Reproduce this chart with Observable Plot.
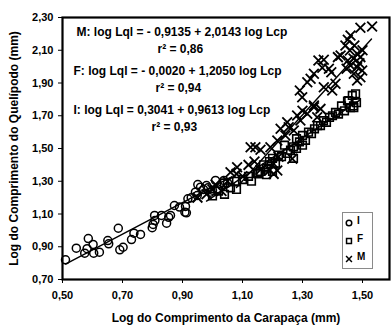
<!DOCTYPE html>
<html>
<head>
<meta charset="utf-8">
<script src="https://cdn.jsdelivr.net/npm/d3@7"></script>
<script src="https://cdn.jsdelivr.net/npm/@observablehq/plot@0.6"></script>
<style>
  body { margin: 0; background: white; }
  #wrap { position: relative; width: 391px; height: 326px; }
  #legend { position: absolute; left: 342px; top: 212px; }
</style>
</head>
<body>
<div id="wrap"></div>
<script>
// ---- data ----
const groups = ["M", "F", "I"];
const intercepts = [-0.9135, -0.0020, 0.3041];
const slopes = [2.0143, 1.2050, 0.9613];
const rSquared = [0.86, 0.94, 0.93];
const lineFrom = [1.08, 0.98, 0.51];
const lineTo = [1.53, 1.49, 1.06];

const xTicks = [0.5, 0.7, 0.9, 1.1, 1.3, 1.5];
const yTicks = [0.7, 0.9, 1.1, 1.3, 1.5, 1.7, 1.9, 2.1, 2.3];
const xLabel = "Log do Comprimento da Carapaça (mm)";
const yLabel = "Log do Comprimento do Quelípodo (mm)";

const iX = [0.51,0.546,0.574,0.582,0.586,0.602,0.604,0.623,0.651,0.654,0.686,0.691,0.702,0.73,0.738,0.76,0.799,0.802,0.808,0.807,0.83,0.847,0.854,0.86,0.873,0.89,0.908,0.91,0.913,0.918,0.929,0.943,0.949,0.951,0.96,0.97,0.98,0.985,0.993,1.0,1.01,1.016,1.038,1.05];
const iY = [0.82,0.891,0.861,0.888,0.95,0.914,0.861,0.867,0.938,0.918,1.013,0.881,0.897,0.944,0.983,0.975,1.016,1.036,1.06,1.091,1.091,1.044,1.08,1.091,1.152,1.142,1.111,1.146,1.107,1.193,1.199,1.233,1.213,1.28,1.264,1.25,1.274,1.26,1.233,1.245,1.305,1.254,1.305,1.29];

const fX = [1.00,1.02,1.04,1.04,1.06,1.08,1.08,1.10,1.12,1.13,1.15,1.154,1.16,1.17,1.18,1.18,1.19,1.20,1.20,1.21,1.22,1.23,1.24,1.25,1.26,1.27,1.27,1.28,1.28,1.29,1.30,1.30,1.31,1.32,1.33,1.34,1.35,1.36,1.37,1.38,1.39,1.40,1.41,1.42,1.43,1.44,1.45,1.454,1.46,1.466,1.47,1.471,1.477,1.48];
const fY = [1.21,1.24,1.22,1.29,1.26,1.25,1.30,1.31,1.33,1.30,1.35,1.345,1.36,1.40,1.38,1.34,1.42,1.44,1.36,1.41,1.46,1.45,1.52,1.47,1.49,1.51,1.44,1.50,1.56,1.54,1.58,1.52,1.55,1.60,1.59,1.62,1.64,1.64,1.67,1.66,1.69,1.70,1.72,1.71,1.76,1.73,1.79,1.793,1.75,1.824,1.76,1.749,1.834,1.78];

const mX = [0.95,0.98,1.00,1.01,1.03,1.05,1.06,1.08,1.082,1.10,1.12,1.127,1.14,1.143,1.16,1.16,1.19,1.193,1.204,1.204,1.216,1.216,1.22,1.227,1.243,1.249,1.254,1.266,1.271,1.282,1.291,1.293,1.299,1.30,1.316,1.316,1.327,1.338,1.338,1.338,1.349,1.353,1.36,1.366,1.371,1.371,1.388,1.396,1.399,1.41,1.418,1.427,1.443,1.447,1.451,1.451,1.458,1.46,1.46,1.47,1.471,1.473,1.482,1.482,1.482,1.49,1.493,1.493,1.493,1.499,1.50,1.532];
const mY = [1.20,1.22,1.25,1.28,1.24,1.30,1.355,1.345,1.386,1.33,1.40,1.508,1.42,1.508,1.492,1.37,1.366,1.508,1.407,1.345,1.366,1.549,1.45,1.62,1.579,1.661,1.63,1.437,1.61,1.702,1.854,1.671,1.813,1.73,1.905,1.712,1.926,1.956,1.763,1.752,1.691,2.037,1.742,1.993,2.042,1.874,1.987,1.966,1.854,1.895,2.058,2.068,2.129,1.987,2.164,2.037,2.098,2.19,2.007,2.05,1.956,2.129,2.078,1.997,1.915,2.02,2.237,2.058,1.935,1.976,2.10,2.245];

// ---- build ----
const fmt = d => d.toFixed(2).replace(".", ",");
const dec4 = v => v.toFixed(4).replace(".", ",");
const toPts = (xs, ys) => xs.map((x, i) => ({x, y: ys[i]}));
const iData = toPts(iX, iY), fData = toPts(fX, fY), mData = toPts(mX, mY);

const fitLines = groups.flatMap((g, k) => [lineFrom[k], lineTo[k]].map(x => ({g, x, y: intercepts[k] + slopes[k] * x})));
const eqText = groups.map((g, k) => {
  const a = intercepts[k];
  const aStr = a < 0 ? "- " + dec4(-a) : dec4(a);
  return `${g}: log Lql = ${aStr} + ${dec4(slopes[k])} log Lcp`;
});
const r2Text = rSquared.map(r => `r² = ${fmt(r)}`);

// offsets of the annotation lines from the frame's top-left corner
const eqDx = [14, 11, 11], eqDy = [15, 54, 93];
const r2Dx = [95, 93, 89], r2Dy = [32, 71, 110];

const textMarks = groups.flatMap((g, k) => [
  Plot.text([eqText[k]], {frameAnchor: "top-left", dx: eqDx[k], dy: eqDy[k], textAnchor: "start", lineAnchor: "middle", fontSize: 12, fontWeight: "bold"}),
  Plot.text([r2Text[k]], {frameAnchor: "top-left", dx: r2Dx[k], dy: r2Dy[k], textAnchor: "start", lineAnchor: "middle", fontSize: 12, fontWeight: "bold"})
]);

const chart = Plot.plot({
  width: 391, height: 326,
  marginLeft: 62, marginRight: 2, marginTop: 17, marginBottom: 47,
  x: {domain: [0.5, 1.59]},
  y: {domain: [0.7, 2.3]},
  style: {fontFamily: "'Liberation Sans', Arial, sans-serif", fontWeight: "bold", fontSize: "11px", background: "white", color: "black"},
  marks: [
    Plot.axisX({ticks: xTicks, tickFormat: fmt, tickSize: 4, tickPadding: 8, label: null}),
    Plot.axisY({ticks: yTicks, tickFormat: fmt, tickSize: 4, tickPadding: 5, label: null}),
    Plot.text([xLabel], {frameAnchor: "bottom", dy: 39, textAnchor: "middle", lineAnchor: "middle", fontSize: 12, fontWeight: "bold"}),
    Plot.text([yLabel], {frameAnchor: "left", dx: -48, rotate: -90, textAnchor: "middle", lineAnchor: "middle", fontSize: 12, fontWeight: "bold"}),
    Plot.dot(iData, {x: "x", y: "y", symbol: "circle", r: 4, stroke: "black", strokeWidth: 1.5, fill: "none"}),
    Plot.dot(fData, {x: "x", y: "y", symbol: "square", r: 4.3, stroke: "black", strokeWidth: 1.6, fill: "none"}),
    Plot.dot(mData, {x: "x", y: "y", symbol: "times", r: 4.5, stroke: "black", strokeWidth: 1.8}),
    Plot.line(fitLines, {x: "x", y: "y", z: "g", stroke: "black", strokeWidth: 1.4}),
    ...textMarks,
    Plot.frame({stroke: "black", strokeWidth: 2.2})
  ]
});
const wrap = document.getElementById("wrap");
wrap.appendChild(chart);

// legend box
const legend = document.createElementNS("http://www.w3.org/2000/svg", "svg");
legend.setAttribute("id", "legend");
legend.setAttribute("width", 31);
legend.setAttribute("height", 57);
const lg = d3.select(legend);
lg.append("rect").attr("x", 0.5).attr("y", 0.5).attr("width", 30).attr("height", 56).attr("fill", "white").attr("stroke", "#8a8a8a");
const legendSymbols = ["circle", "square", "times"];
const legendNames = ["I", "F", "M"];
legendSymbols.forEach((s, k) => {
  const sym = {circle: d3.symbolCircle, square: d3.symbolSquare, times: d3.symbolTimes}[s];
  lg.append("path").attr("d", d3.symbol(sym, 24)()).attr("transform", `translate(7,${11 + k * 18})`)
    .attr("fill", "none").attr("stroke", "black").attr("stroke-width", 1.5);
  lg.append("text").attr("x", 15).attr("y", 12 + k * 18).text(legendNames[k])
    .attr("font-family", "'Liberation Sans', Arial, sans-serif").attr("font-weight", "bold").attr("font-size", 10);
});
wrap.appendChild(legend);
</script>
</body>
</html>
